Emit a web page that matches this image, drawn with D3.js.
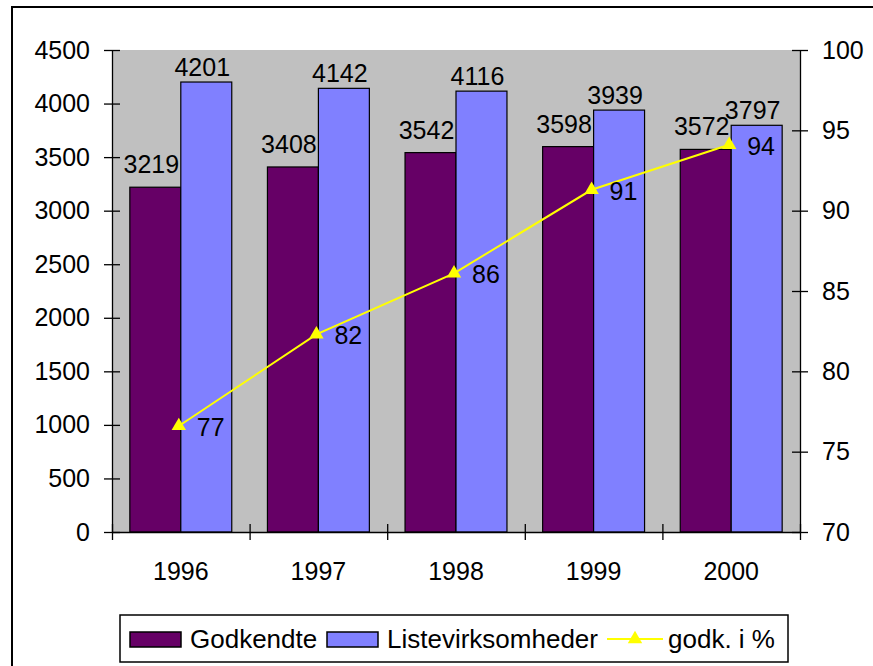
<!DOCTYPE html>
<html>
<head>
<style>
  body { margin: 0; background: #fff; }
  svg text { font-family: "Liberation Sans", Arial, sans-serif; fill: #000; }
  .axis text { font-size: 25px; }
  .axis path, .axis line { stroke: #000; stroke-width: 1.3; }
</style>
<script src="https://d3js.org/d3.v7.min.js"></script>
</head>
<body>
<svg width="873" height="666"></svg>
<script>
// data
var years = ["1996", "1997", "1998", "1999", "2000"];
var godkendte = [3219, 3408, 3542, 3598, 3572];
var liste = [4201, 4142, 4116, 3939, 3797];
var pct = [76.6, 82.3, 86.1, 91.3, 94.1];
var pctLabels = ["77", "82", "86", "91", "94"];
var leftTicks = [0, 500, 1000, 1500, 2000, 2500, 3000, 3500, 4000, 4500];
var rightTicks = [70, 75, 80, 85, 90, 95, 100];
var seriesNames = ["Godkendte", "Listevirksomheder", "godk. i %"];
var colors = ["#660066", "#8080ff", "#ffff00"];

var svg = d3.select("svg");
var pLeft = 112, pRight = 800, pTop = 50, pBottom = 532;

// outer frame (runs off the right and bottom edge)
svg.append("rect")
  .attr("x", 12).attr("y", 7)
  .attr("width", 900).attr("height", 700)
  .attr("fill", "none").attr("stroke", "#000").attr("stroke-width", 2);

// plot area
svg.append("rect")
  .attr("x", pLeft).attr("y", pTop)
  .attr("width", pRight - pLeft).attr("height", pBottom - pTop)
  .attr("fill", "#c0c0c0");

var x0 = d3.scaleBand().domain(years).range([pLeft, pRight]);
var x1 = d3.scaleBand().domain([0, 1]).range([0, x0.bandwidth()])
  .paddingInner(0).paddingOuter(0.35);
var y = d3.scaleLinear().domain([0, 4500]).range([pBottom, pTop]);
var y2 = d3.scaleLinear().domain([70, 100]).range([pBottom, pTop]);

// bars
var bars = [godkendte, liste];
bars.forEach(function(vals, s) {
  svg.append("g").selectAll("rect")
    .data(vals)
    .enter().append("rect")
    .attr("x", function(d, i) { return x0(years[i]) + x1(s); })
    .attr("y", function(d) { return y(d); })
    .attr("width", x1.bandwidth())
    .attr("height", function(d) { return pBottom - y(d); })
    .attr("fill", colors[s])
    .attr("stroke", "#000")
    .attr("stroke-width", 1.2);
});

// bar value labels
var labelOff = [14, 6];
bars.forEach(function(vals, s) {
  svg.append("g").selectAll("text")
    .data(vals)
    .enter().append("text")
    .attr("x", function(d, i) { return x0(years[i]) + x1(s) + x1.bandwidth() / 2 - 4; })
    .attr("y", function(d) { return y(d) - labelOff[s]; })
    .attr("text-anchor", "middle")
    .style("font-size", "25px")
    .text(function(d) { return d; });
});

// left axis
svg.append("g").attr("class", "axis")
  .attr("transform", "translate(" + pLeft + ",0)")
  .call(d3.axisLeft(y).tickValues(leftTicks).tickFormat(d3.format("d"))
    .tickSize(8).tickSizeOuter(0).tickPadding(14))
  .call(function(g) { g.selectAll(".tick line").attr("x1", 8); });

// right axis
svg.append("g").attr("class", "axis")
  .attr("transform", "translate(" + pRight + ",0)")
  .call(d3.axisRight(y2).tickValues(rightTicks).tickFormat(d3.format("d"))
    .tickSize(8).tickSizeOuter(0).tickPadding(14))
  .call(function(g) { g.selectAll(".tick line").attr("x1", -8); });

// bottom axis: ticks at category boundaries
var xb = d3.scaleLinear().domain([0, years.length]).range([pLeft, pRight]);
svg.append("g").attr("class", "axis")
  .attr("transform", "translate(0," + pBottom + ")")
  .call(d3.axisBottom(xb).tickValues(d3.range(years.length + 1)).tickFormat("").tickSize(8).tickSizeOuter(0))
  .call(function(g) { g.selectAll(".tick line").attr("y1", -8); });

svg.append("g").attr("class", "axis")
  .attr("transform", "translate(0," + pBottom + ")")
  .call(d3.axisBottom(x0).tickSize(0).tickPadding(30))
  .call(function(g) { g.select(".domain").remove(); });

// percent line
var cx = function(i) { return x0(years[i]) + x0.bandwidth() / 2 - 2; };
var line = d3.line()
  .x(function(d, i) { return cx(i); })
  .y(function(d) { return y2(d); });
svg.append("path")
  .datum(pct)
  .attr("d", line)
  .attr("fill", "none")
  .attr("stroke", colors[2])
  .attr("stroke-width", 2);

var tri = d3.symbol().type(d3.symbolTriangle).size(90);
svg.append("g").selectAll("path")
  .data(pct)
  .enter().append("path")
  .attr("d", tri)
  .attr("transform", function(d, i) { return "translate(" + cx(i) + "," + y2(d) + ")"; })
  .attr("fill", colors[2]);

svg.append("g").selectAll("text")
  .data(pct)
  .enter().append("text")
  .attr("x", function(d, i) { return cx(i) + 18; })
  .attr("y", function(d) { return y2(d) + 10; })
  .style("font-size", "25px")
  .text(function(d, i) { return pctLabels[i]; });

// legend
var lg = svg.append("g");
lg.append("rect")
  .attr("x", 120).attr("y", 615)
  .attr("width", 668).attr("height", 47)
  .attr("fill", "#fff").attr("stroke", "#000").attr("stroke-width", 1.5);

var legX = [130, 327, 607];
var cyL = 639;
[0, 1].forEach(function(s) {
  lg.append("rect")
    .attr("x", legX[s]).attr("y", cyL - 7)
    .attr("width", 51).attr("height", 15)
    .attr("fill", colors[s]).attr("stroke", "#000").attr("stroke-width", 1.5);
  lg.append("text")
    .attr("x", legX[s] + 60).attr("y", cyL + 9)
    .style("font-size", "26px")
    .text(seriesNames[s]);
});
lg.append("line")
  .attr("x1", legX[2]).attr("x2", legX[2] + 56)
  .attr("y1", cyL).attr("y2", cyL)
  .attr("stroke", colors[2]).attr("stroke-width", 2);
lg.append("path")
  .attr("d", tri)
  .attr("transform", "translate(" + (legX[2] + 28) + "," + cyL + ")")
  .attr("fill", colors[2]);
lg.append("text")
  .attr("x", 668).attr("y", cyL + 9)
  .style("font-size", "26px")
  .text(seriesNames[2]);
</script>
</body>
</html>
